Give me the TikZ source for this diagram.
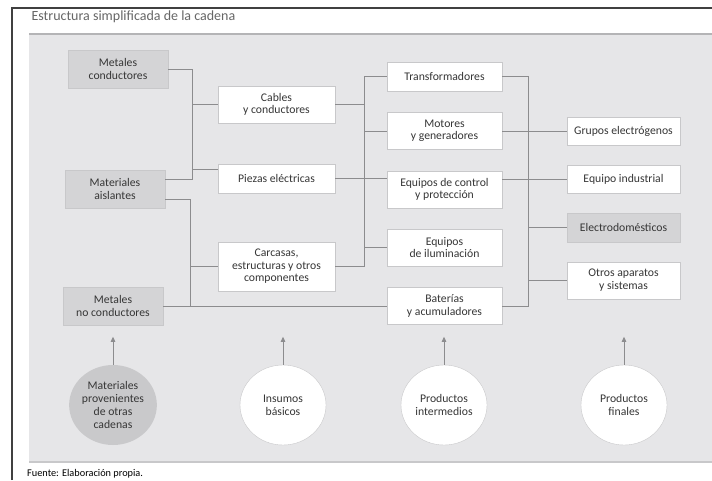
\documentclass[tikz,border=0pt]{standalone}
\usepackage{fontspec}
\setmainfont{Carlito}
\usepackage{xcolor}
\usepackage{tikz}
\usetikzlibrary{shapes,arrows.meta,positioning,calc}

\definecolor{panelgray}{HTML}{E6E6E8}
\definecolor{boxgray}{HTML}{D4D4D6}
\definecolor{circgray}{HTML}{C9C9CB}
\definecolor{linegray}{HTML}{8C8C8E}
\definecolor{edgegray}{HTML}{C8C8CA}
\definecolor{txtgray}{HTML}{363636}

\begin{document}
\begin{tikzpicture}[
    x=1pt, y=-1pt,
    node distance=21pt and 20pt,
    base/.style={rectangle, align=center, inner sep=2pt, text=txtgray, font=\fontsize{11.7}{12.5}\selectfont},
    graybox/.style={base, fill=boxgray, draw=edgegray, minimum width=100pt, minimum height=38pt},
    whitebox/.style={base, fill=white, draw=edgegray, minimum height=29pt},
    colB/.style={minimum width=117pt},
    colC/.style={minimum width=115pt},
    colD/.style={minimum width=113pt},
    stage/.style={ellipse, align=center, inner sep=0pt, minimum width=86pt, minimum height=80pt, text=txtgray, font=\fontsize{11.7}{12.8}\selectfont},
    link/.style={draw=linegray, line width=0.8pt},
    arrow/.style={-{Triangle[length=5pt, width=4.5pt]}, draw=linegray, fill=linegray, line width=0.8pt}
]
    \useasboundingbox (0,0) rectangle (712,480);

    \fill [panelgray] (29,33) rectangle (712,463);
    \draw [edgegray!90!black, line width=2pt] (29,34) -- (712,34);
    \draw [edgegray, line width=2pt] (29,462) -- (712,462);
    \draw [black!75, line width=1.2pt] (12,480) -- (12,8) -- (712,8);

    \node [anchor=base west, text=black!60, font=\fontsize{14}{16}\selectfont] (title) at (28,20.5) {Estructura simplificada de la cadena};
    \node [anchor=base west, text=black, font=\fontsize{10.3}{12}\selectfont, inner sep=0pt] (source) at (27,476) {Fuente: Elaboración propia.};

    \node [graybox] (mc) at (118,69) {Metales\\conductores};
    \node [graybox] (ma) at (115,189) {Materiales\\aislantes};
    \node [graybox] (mn) at (113,306) {Metales\\no conductores};

    \node [whitebox, colB, minimum height=37pt] (cb) at (276.5,104.5) {Cables\\y conductores};
    \node [whitebox, colB] (pe) at (276.5,178.5) {Piezas eléctricas};
    \node [whitebox, colB, minimum height=49pt] (ca) at (276.5,266.5) {Carcasas,\\estructuras y otros\\componentes};

    \node [whitebox, colC] (tr) at (444.5,76.5) {Transformadores};
    \node [whitebox, colC, minimum height=37pt, below=of tr] (mg) {Motores\\y generadores};
    \node [whitebox, colC, minimum height=37pt, below=of mg] (ec) {Equipos de control\\y protección};
    \node [whitebox, colC, minimum height=37pt, below=of ec] (ei) {Equipos\\de iluminación};
    \node [whitebox, colC, minimum height=37pt, below=of ei] (ba) {Baterías\\y acumuladores};

    \node [whitebox, colD, minimum height=28pt] (ge) at (623.5,131) {Grupos electrógenos};
    \node [whitebox, colD, minimum height=28pt, below=19.5pt of ge] (ind) {Equipo industrial};
    \node [graybox, colD, minimum height=29pt, below=19.5pt of ind] (el) {Electrodomésticos};
    \node [whitebox, colD, minimum height=37pt, below=19.5pt of el] (oa) {Otros aparatos\\y sistemas};

    \node [stage, fill=circgray] (c1) at (113,405) {Materiales\\provenientes\\de otras\\cadenas};
    \node [stage, fill=white, draw=edgegray] (c2) at (283,405) {Insumos\\básicos};
    \node [stage, fill=white, draw=edgegray] (c3) at (444,405) {Productos\\intermedios};
    \node [stage, fill=white, draw=edgegray] (c4) at (624,405) {Productos\\finales};

    \coordinate (busA) at (192,0);
    \coordinate (busB) at (190,0);
    \coordinate (busC) at (364,0);
    \coordinate (busD) at (528,0);

    \draw [link] ([yshift=10pt]ma.east) -| (busA |- mc.east) -- (mc.east);
    \draw [link] (busA |- cb.west) -- (cb.west);
    \draw [link] ([yshift=9.5pt]pe.west -| busA) -- ([yshift=9.5pt]pe.west);
    \draw [link] ([yshift=-10pt]ma.east) -| (busB |- mn.east);
    \draw [link] (busB |- ca.west) -- (ca.west);
    \draw [link] (mn.east) -- (mn.east -| ba.west);

    \draw [link] (tr.west) -| (busC |- ca.east) -- (ca.east);
    \draw [link] (cb.east) -- (cb.east -| busC);
    \draw [link] (busC |- mg.west) -- (mg.west);
    \draw [link] (pe.east) -- (pe.east -| ec.west);
    \draw [link] (busC |- ei.west) -- (ei.west);

    \draw [link] (tr.east) -| (busD |- ba.east) -- (ba.east);
    \draw [link] (mg.east) -- (mg.east -| ge.west);
    \draw [link] ([yshift=10pt]ec.east) -- ([yshift=10pt]ec.east -| ind.west);
    \draw [link] (busD |- el.west) -- (el.west);
    \draw [link] (busD |- oa.west) -- (oa.west);

    \foreach \c in {c1,c2,c3,c4}
        \draw [arrow] (\c.north) -- ++(0,-28);
\end{tikzpicture}
\end{document}
